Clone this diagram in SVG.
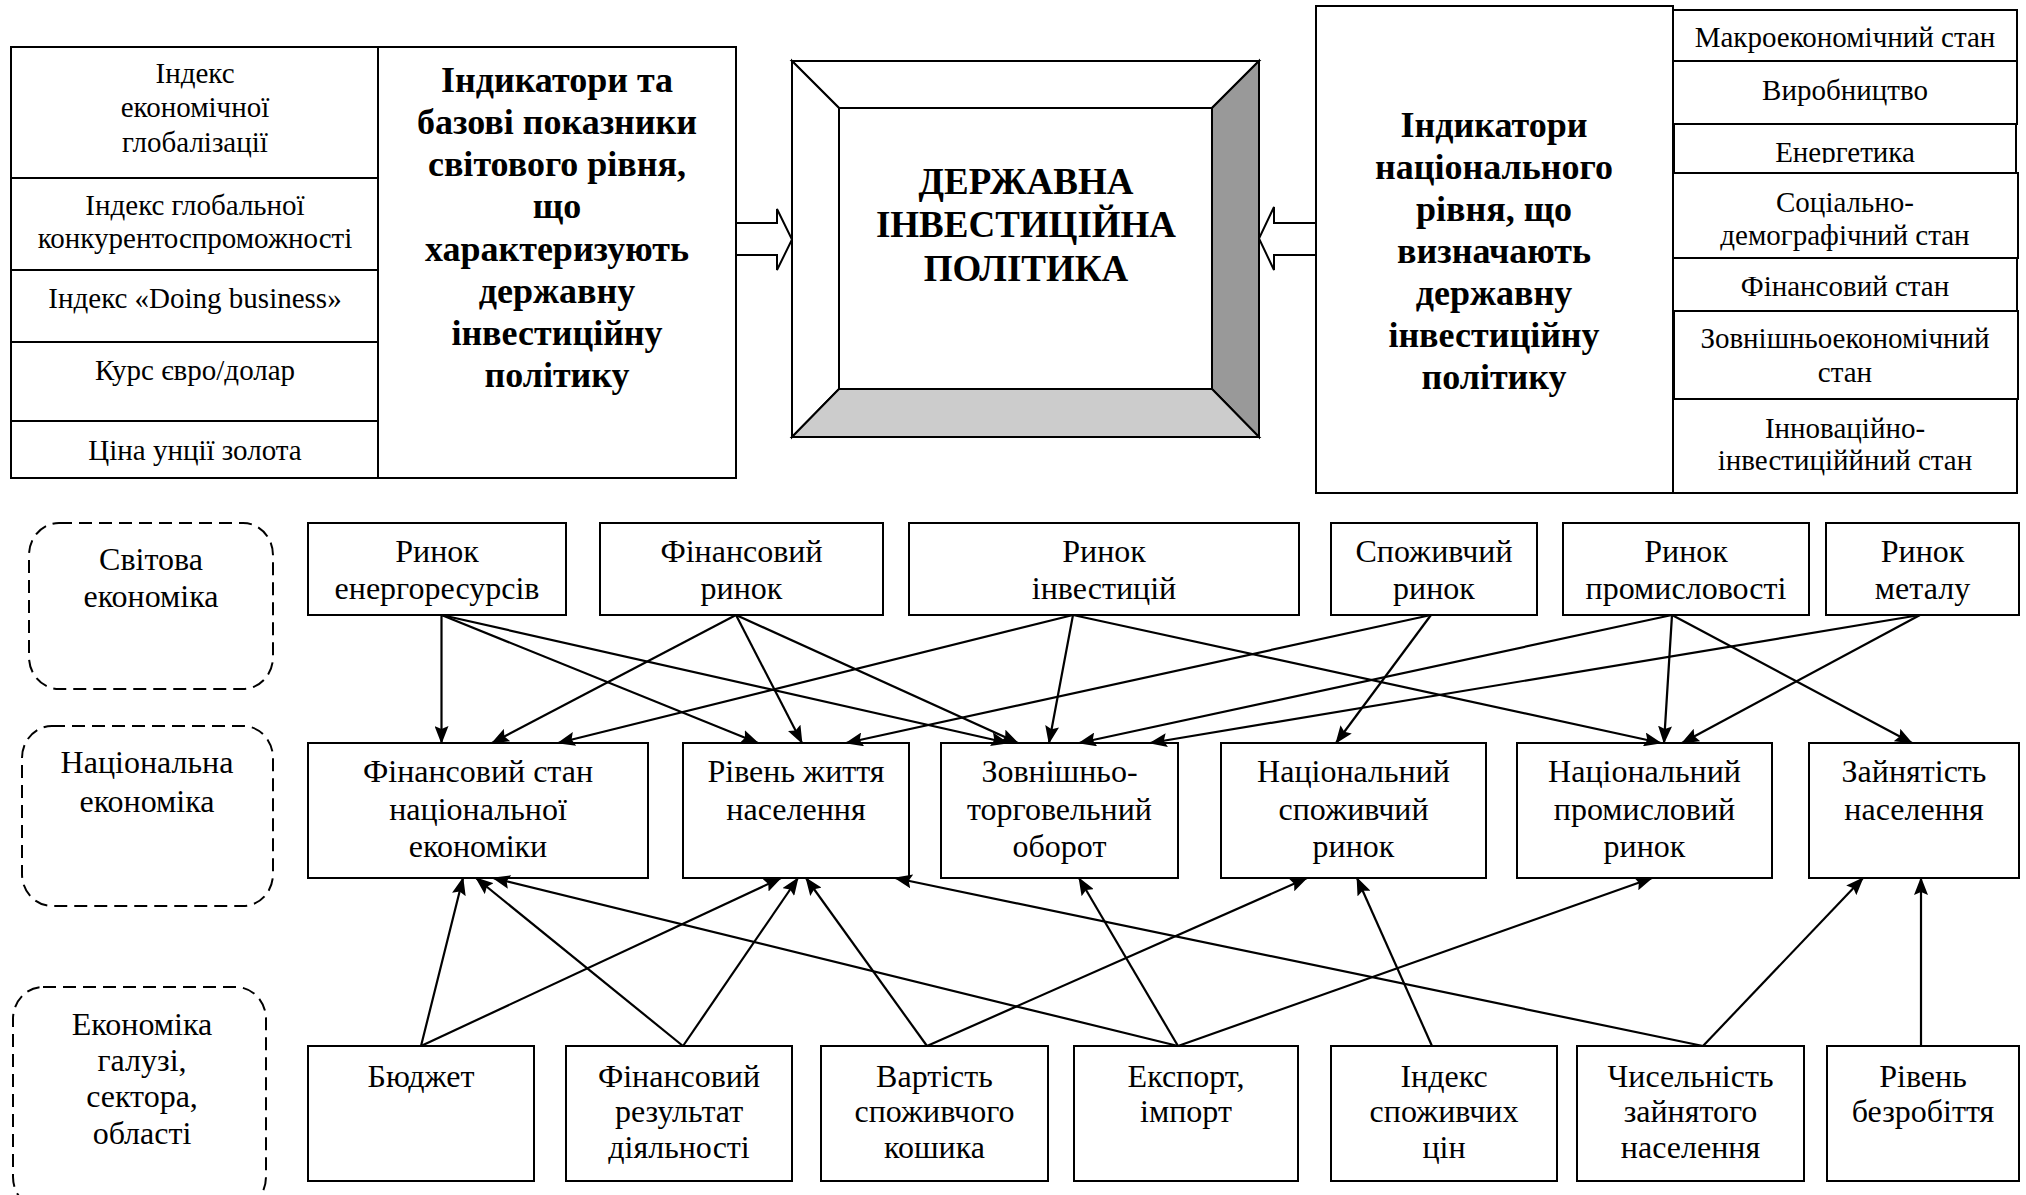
<svg xmlns="http://www.w3.org/2000/svg" width="2026" height="1195" viewBox="0 0 2026 1195">
<style>
.box{fill:#fff;stroke:#000;stroke-width:2}
.dash{fill:none;stroke:#000;stroke-width:2;stroke-dasharray:13 7}
.t{font-family:"Liberation Serif","Times New Roman",serif;font-size:29px;text-anchor:middle;fill:#000}
.tl{font-family:"Liberation Serif","Times New Roman",serif;font-size:32px;text-anchor:middle;fill:#000}
.tb{font-family:"Liberation Serif","Times New Roman",serif;font-size:36px;font-weight:bold;text-anchor:middle;fill:#000}
.tc{font-family:"Liberation Serif","Times New Roman",serif;font-size:37px;font-weight:bold;text-anchor:middle;fill:#000}
.ln{stroke:#000;stroke-width:2.2;fill:none;marker-end:url(#ah)}
.blk{fill:#fff;stroke:#000;stroke-width:2}
</style>
<defs>
<marker id="ah" markerUnits="userSpaceOnUse" markerWidth="18" markerHeight="14" refX="17" refY="7" orient="auto">
<path d="M0,0 L18,7 L0,14 L3,7 z" fill="#000"/>
</marker>
<clipPath id="clipEn"><rect x="1673" y="124" width="344" height="39"/></clipPath>
</defs>
<rect width="2026" height="1195" fill="#fff"/>

<!-- Left indicator block -->
<g id="world-indicators">
<rect class="box" x="11" y="47" width="725" height="431"/>
<line x1="378" y1="47" x2="378" y2="478" stroke="#000" stroke-width="2"/>
<line x1="11" y1="178" x2="378" y2="178" stroke="#000" stroke-width="2"/>
<line x1="11" y1="270" x2="378" y2="270" stroke="#000" stroke-width="2"/>
<line x1="11" y1="342" x2="378" y2="342" stroke="#000" stroke-width="2"/>
<line x1="11" y1="421" x2="378" y2="421" stroke="#000" stroke-width="2"/>
<text class="t" x="195" y="83">Індекс</text>
<text class="t" x="195" y="117">економічної</text>
<text class="t" x="195" y="152">глобалізації</text>
<text class="t" x="195" y="215">Індекс глобальної</text>
<text class="t" x="195" y="248">конкурентоспроможності</text>
<text class="t" x="195" y="308">Індекс «Doing business»</text>
<text class="t" x="195" y="380">Курс євро/долар</text>
<text class="t" x="195" y="460">Ціна унції золота</text>
<text class="tb" x="557" y="92">Індикатори та</text>
<text class="tb" x="557" y="134">базові показники</text>
<text class="tb" x="557" y="176">світового рівня,</text>
<text class="tb" x="557" y="218">що</text>
<text class="tb" x="557" y="261">характеризують</text>
<text class="tb" x="557" y="303">державну</text>
<text class="tb" x="557" y="345">інвестиційну</text>
<text class="tb" x="557" y="387">політику</text>
</g>

<!-- Central bevel box -->
<g id="state-policy">
<polygon points="792,61 1259,61 1212,108 839,108" fill="#fff" stroke="#000" stroke-width="2"/>
<polygon points="792,61 839,108 839,389 792,437" fill="#fff" stroke="#000" stroke-width="2"/>
<polygon points="1259,61 1259,437 1212,389 1212,108" fill="#999" stroke="#000" stroke-width="2"/>
<polygon points="792,437 1259,437 1212,389 839,389" fill="#ccc" stroke="#000" stroke-width="2"/>
<rect x="839" y="108" width="373" height="281" fill="#fff" stroke="#000" stroke-width="2"/>
<text class="tc" x="1026" y="194">ДЕРЖАВНА</text>
<text class="tc" x="1026" y="237">ІНВЕСТИЦІЙНА</text>
<text class="tc" x="1026" y="281">ПОЛІТИКА</text>
</g>

<!-- Right indicator block -->
<g id="national-indicators">
<rect class="box" x="1316" y="6" width="357" height="487"/>
<text class="tb" x="1494" y="137">Індикатори</text>
<text class="tb" x="1494" y="179">національного</text>
<text class="tb" x="1494" y="221">рівня, що</text>
<text class="tb" x="1494" y="263">визначають</text>
<text class="tb" x="1494" y="305">державну</text>
<text class="tb" x="1494" y="347">інвестиційну</text>
<text class="tb" x="1494" y="389">політику</text>
<rect class="box" x="1673" y="10" width="344" height="51"/>
<text class="t" x="1845" y="47">Макроекономічний стан</text>
<rect class="box" x="1673" y="61" width="344" height="63"/>
<text class="t" x="1845" y="100">Виробництво</text>
<rect class="box" x="1674" y="124" width="342" height="49"/>
<text class="t" x="1845" y="162" clip-path="url(#clipEn)">Енергетика</text>
<rect class="box" x="1673" y="173" width="345" height="85"/>
<text class="t" x="1845" y="212">Соціально-</text>
<text class="t" x="1845" y="245">демографічний стан</text>
<rect class="box" x="1673" y="258" width="344" height="53"/>
<text class="t" x="1845" y="296">Фінансовий стан</text>
<rect class="box" x="1674" y="311" width="344" height="88"/>
<text class="t" x="1845" y="348">Зовнішньоекономічний</text>
<text class="t" x="1845" y="382">стан</text>
<rect class="box" x="1673" y="399" width="344" height="94"/>
<text class="t" x="1845" y="438">Інноваційно-</text>
<text class="t" x="1845" y="470">інвестиціййний стан</text>
</g>

<!-- Block arrows -->
<g id="block-arrows">
<polygon class="blk" points="736,223 777,223 777,209 792,239.5 777,270 777,255 736,255"/>
<polygon class="blk" points="1316,223 1274,223 1274,207 1259,238.5 1274,270 1274,255 1316,255"/>
</g>

<!-- Level labels -->
<g id="level-world">
<rect class="dash" x="29" y="523" width="244" height="166" rx="30" ry="32"/>
<text class="tl" x="151" y="570">Світова</text>
<text class="tl" x="151" y="607">економіка</text>
</g>
<g id="level-national">
<rect class="dash" x="22" y="726" width="251" height="180" rx="30" ry="32"/>
<text class="tl" x="147" y="773">Національна</text>
<text class="tl" x="147" y="812">економіка</text>
</g>
<g id="level-sector">
<rect class="dash" x="13" y="987" width="253" height="222" rx="30" ry="32"/>
<text class="tl" x="142" y="1035">Економіка</text>
<text class="tl" x="142" y="1071">галузі,</text>
<text class="tl" x="142" y="1107">сектора,</text>
<text class="tl" x="142" y="1144">області</text>
</g>

<!-- Top row -->
<g id="m-energy"><rect class="box" x="308" y="523" width="258" height="92"/><text class="tl" x="437" y="562">Ринок</text><text class="tl" x="437" y="599">енергоресурсів</text></g>
<g id="m-finance"><rect class="box" x="600" y="523" width="283" height="92"/><text class="tl" x="741.5" y="562">Фінансовий</text><text class="tl" x="741.5" y="599">ринок</text></g>
<g id="m-invest"><rect class="box" x="909" y="523" width="390" height="92"/><text class="tl" x="1104" y="562">Ринок</text><text class="tl" x="1104" y="599">інвестицій</text></g>
<g id="m-consumer"><rect class="box" x="1331" y="523" width="206" height="92"/><text class="tl" x="1434" y="562">Споживчий</text><text class="tl" x="1434" y="599">ринок</text></g>
<g id="m-industry"><rect class="box" x="1563" y="523" width="246" height="92"/><text class="tl" x="1686" y="562">Ринок</text><text class="tl" x="1686" y="599">промисловості</text></g>
<g id="m-metal"><rect class="box" x="1826" y="523" width="193" height="92"/><text class="tl" x="1922.5" y="562">Ринок</text><text class="tl" x="1922.5" y="599">металу</text></g>

<!-- Middle row -->
<g id="n-finstate"><rect class="box" x="308" y="743" width="340" height="135"/><text class="tl" x="478" y="782">Фінансовий стан</text><text class="tl" x="478" y="820">національної</text><text class="tl" x="478" y="857">економіки</text></g>
<g id="n-living"><rect class="box" x="683" y="743" width="226" height="135"/><text class="tl" x="796" y="782">Рівень життя</text><text class="tl" x="796" y="820">населення</text></g>
<g id="n-trade"><rect class="box" x="941" y="743" width="237" height="135"/><text class="tl" x="1059.5" y="782">Зовнішньо-</text><text class="tl" x="1059.5" y="820">торговельний</text><text class="tl" x="1059.5" y="857">оборот</text></g>
<g id="n-consumer"><rect class="box" x="1221" y="743" width="265" height="135"/><text class="tl" x="1353.5" y="782">Національний</text><text class="tl" x="1353.5" y="820">споживчий</text><text class="tl" x="1353.5" y="857">ринок</text></g>
<g id="n-industry"><rect class="box" x="1517" y="743" width="255" height="135"/><text class="tl" x="1644.5" y="782">Національний</text><text class="tl" x="1644.5" y="820">промисловий</text><text class="tl" x="1644.5" y="857">ринок</text></g>
<g id="n-employment"><rect class="box" x="1809" y="743" width="210" height="135"/><text class="tl" x="1914" y="782">Зайнятість</text><text class="tl" x="1914" y="820">населення</text></g>

<!-- Bottom row -->
<g id="s-budget"><rect class="box" x="308" y="1046" width="226" height="135"/><text class="tl" x="421" y="1087">Бюджет</text></g>
<g id="s-finresult"><rect class="box" x="566" y="1046" width="226" height="135"/><text class="tl" x="679" y="1087">Фінансовий</text><text class="tl" x="679" y="1122">результат</text><text class="tl" x="679" y="1158">діяльності</text></g>
<g id="s-basket"><rect class="box" x="821" y="1046" width="227" height="135"/><text class="tl" x="934.5" y="1087">Вартість</text><text class="tl" x="934.5" y="1122">споживчого</text><text class="tl" x="934.5" y="1158">кошика</text></g>
<g id="s-export"><rect class="box" x="1074" y="1046" width="224" height="135"/><text class="tl" x="1186" y="1087">Експорт,</text><text class="tl" x="1186" y="1122">імпорт</text></g>
<g id="s-cpi"><rect class="box" x="1331" y="1046" width="226" height="135"/><text class="tl" x="1444" y="1087">Індекс</text><text class="tl" x="1444" y="1122">споживчих</text><text class="tl" x="1444" y="1158">цін</text></g>
<g id="s-employed"><rect class="box" x="1577" y="1046" width="227" height="135"/><text class="tl" x="1690.5" y="1087">Чисельність</text><text class="tl" x="1690.5" y="1122">зайнятого</text><text class="tl" x="1690.5" y="1158">населення</text></g>
<g id="s-unemp"><rect class="box" x="1827" y="1046" width="192" height="135"/><text class="tl" x="1923" y="1087">Рівень</text><text class="tl" x="1923" y="1122">безробіття</text></g>

<!-- Connectors -->
<g id="connectors">
<line class="ln" x1="441.5" y1="615" x2="441.5" y2="743"/>
<line class="ln" x1="441.5" y1="615" x2="758" y2="743"/>
<line class="ln" x1="441.5" y1="615" x2="1008" y2="743"/>
<line class="ln" x1="736" y1="615" x2="492" y2="743"/>
<line class="ln" x1="736" y1="615" x2="802" y2="743"/>
<line class="ln" x1="736" y1="615" x2="1018" y2="743"/>
<line class="ln" x1="1073" y1="615" x2="558" y2="743"/>
<line class="ln" x1="1073" y1="615" x2="1049" y2="743"/>
<line class="ln" x1="1073" y1="615" x2="1661" y2="743"/>
<line class="ln" x1="1431" y1="615" x2="846" y2="743"/>
<line class="ln" x1="1431" y1="615" x2="1336" y2="743"/>
<line class="ln" x1="1672" y1="615" x2="1079" y2="743"/>
<line class="ln" x1="1672" y1="615" x2="1664" y2="743"/>
<line class="ln" x1="1672" y1="615" x2="1912" y2="743"/>
<line class="ln" x1="1920" y1="615" x2="1150" y2="743"/>
<line class="ln" x1="1920" y1="615" x2="1682" y2="743"/>

<line class="ln" x1="421" y1="1046" x2="463" y2="878"/>
<line class="ln" x1="421" y1="1046" x2="781" y2="878"/>
<line class="ln" x1="683" y1="1046" x2="476" y2="878"/>
<line class="ln" x1="683" y1="1046" x2="798" y2="878"/>
<line class="ln" x1="927" y1="1046" x2="806" y2="878"/>
<line class="ln" x1="927" y1="1046" x2="1307" y2="878"/>
<line class="ln" x1="1178" y1="1046" x2="493" y2="878"/>
<line class="ln" x1="1178" y1="1046" x2="1079" y2="878"/>
<line class="ln" x1="1178" y1="1046" x2="1652" y2="878"/>
<line class="ln" x1="1432" y1="1046" x2="1357" y2="878"/>
<line class="ln" x1="1703" y1="1046" x2="895" y2="878"/>
<line class="ln" x1="1703" y1="1046" x2="1863" y2="878"/>
<line class="ln" x1="1921" y1="1046" x2="1921" y2="878"/>
</g>
</svg>
